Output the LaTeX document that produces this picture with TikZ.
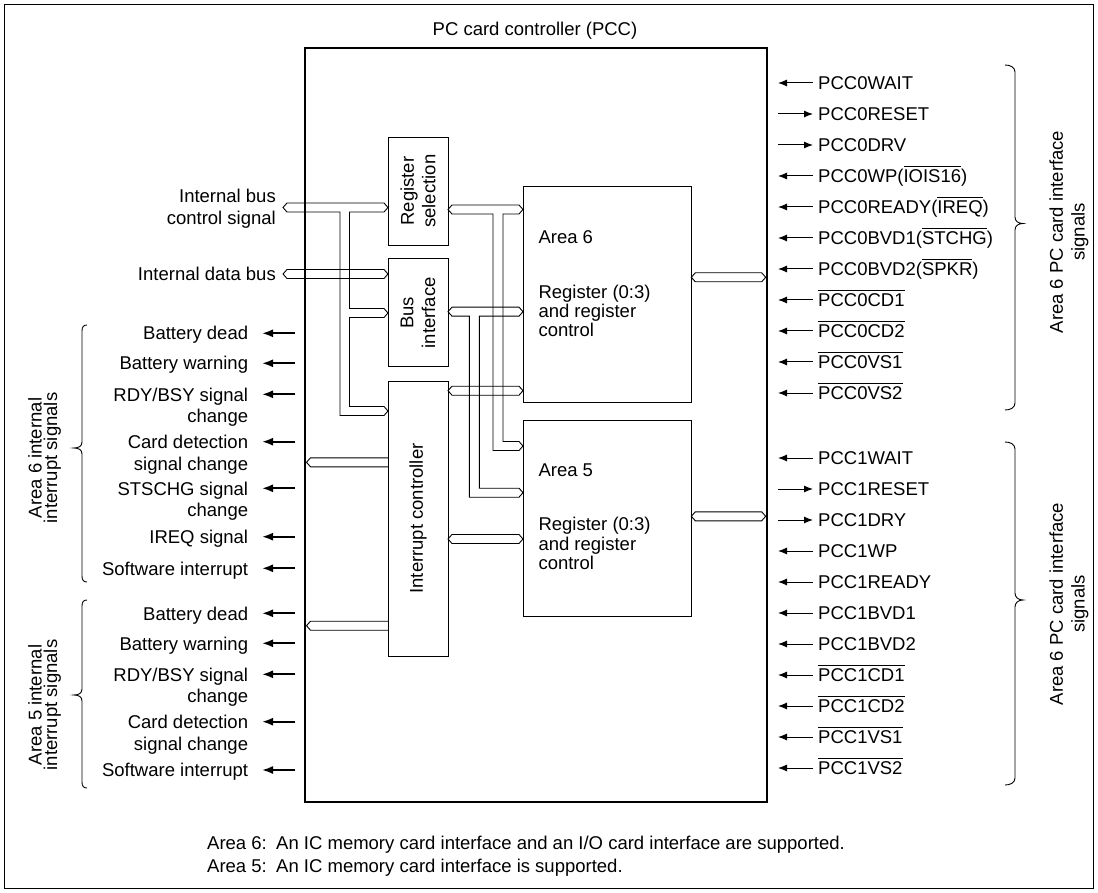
\documentclass[tikz,border=0pt]{standalone}
\usepackage{fontspec}
\setmainfont{Liberation Sans}
\usetikzlibrary{arrows.meta}
\newcommand{\ovl}[1]{\leavevmode\vbox{\hrule height 0.9pt\kern 2.4pt\hbox{#1}}}
\tikzset{
  blk/.style={draw, line width=1pt, inner sep=0pt},
  sigR/.style={anchor=base west, inner xsep=5pt, inner ysep=0pt},
  sigL/.style={anchor=base east, inner xsep=13.7pt, inner ysep=0pt},
  sarrow/.style={-{Latex[length=9pt,width=7pt]}, line width=1pt},
  larrow/.style={-{Latex[length=11pt,width=8pt]}, line width=1.8pt},
  bus/.style={line width=0.9pt, line join=miter},
  brace/.style={line width=0.9pt},
  rlab/.style={rotate=90, align=center, inner sep=0pt},
  note/.style={anchor=base west, inner sep=0pt},
}
\newcommand{\SigIn}[3]{\coordinate (#1c) at (778,#2); \node[sigR] (#1) at (813,#2+6.7) {#3}; \draw[sarrow] (#1c -| #1.west) -- (#1c);}
\newcommand{\SigOut}[3]{\coordinate (#1c) at (778,#2); \node[sigR] (#1) at (813,#2+6.7) {#3}; \draw[sarrow] (#1c) -- (#1c -| #1.west);}
\newcommand{\SigL}[3]{\coordinate (#1c) at (295,#2); \node[sigL] (#1) at (262,#2+6.7) {\begin{tabular}[t]{@{}r@{}}#3\end{tabular}}; \draw[larrow] (#1c) -- (#1c -| #1.east);}
\begin{document}
\begin{tikzpicture}[x=1pt,y=-1pt,font=\fontsize{18.5}{21.7}\selectfont]
\useasboundingbox (0,0) rectangle (1098,893);
\draw[line width=1pt] (4.5,4.5) rectangle (1093.5,888.5);

% title and main box
\node[anchor=base, inner sep=0pt] (title) at (535,35.7) {PC card controller (PCC)};
\node[draw, line width=2.6pt, minimum width=462pt, minimum height=754pt, inner sep=0pt] (pcc) at (536,425) {};

% inner blocks
\node[blk, minimum width=60pt, minimum height=107.7pt] (rs) at (418,191.2) {};
\node[rlab] at (rs.center) {Register\\selection};
\node[blk, minimum width=60pt, minimum height=107.7pt] (bi) at (418,312.8) {};
\node[rlab] at (bi.center) {Bus\\interface};
\node[blk, minimum width=60pt, minimum height=275pt] (ic) at (418,518.5) {};
\node[rlab] at (ic.center) {Interrupt controller};
\node[blk, minimum width=168pt, minimum height=215pt] (a6) at (607.3,294.5) {};
\node[blk, minimum width=168pt, minimum height=196.3pt] (a5) at (607.3,518.8) {};
\node[anchor=base west, inner sep=0pt] (a6t) at (538.3,243.4) {Area 6};
\node[anchor=base west, inner sep=0pt] (a6r) at (538.3,298.4) {\fontsize{18.5}{19.3}\selectfont\begin{tabular}[t]{@{}l@{}}Register (0:3)\\and register\\control\end{tabular}};
\node[anchor=base west, inner sep=0pt] (a5t) at (538.3,476.7) {Area 5};
\node[anchor=base west, inner sep=0pt] (a5r) at (538.3,530.7) {\fontsize{18.5}{19.3}\selectfont\begin{tabular}[t]{@{}l@{}}Register (0:3)\\and register\\control\end{tabular}};

% buses, left side
\node[anchor=base east, inner sep=0pt] (ibc) at (276,202.7) {\begin{tabular}[t]{@{}r@{}}Internal bus\\control signal\end{tabular}};
\node[anchor=base east, inner sep=0pt] (idb) at (276,280.7) {Internal data bus};
\draw[bus] (287,203) -- (384,203) -- (388,207.5) -- (384,212) -- (349.5,212)
  -- (349.5,308.5) -- (384,308.5) -- (388,313) -- (384,317.5) -- (349.5,317.5)
  -- (349.5,406.5) -- (384,406.5) -- (388,411) -- (384,415.5) -- (340,415.5)
  -- (340,212) -- (287,212) -- (283,207.5) -- cycle;
\draw[bus] (287,269.5) -- (384,269.5) -- (388,274) -- (384,278.5) -- (287,278.5) -- (283,274) -- cycle;

% buses, middle
\draw[bus] (448,209.5) -- (452,205) -- (519,205) -- (523,209.5) -- (519,214) -- (503,214)
  -- (503,441.5) -- (519,441.5) -- (523,446) -- (519,450.5) -- (493,450.5) -- (493,214) -- (452,214) -- cycle;
\draw[bus] (448,311.7) -- (452,307.2) -- (519,307.2) -- (523,311.7) -- (519,316.2) -- (479.3,316.2)
  -- (479.3,488.2) -- (519,488.2) -- (523,492.7) -- (519,497.2) -- (469.3,497.2) -- (469.3,316.2) -- (452,316.2) -- cycle;
\draw[bus] (448,390.7) -- (452,386.2) -- (519,386.2) -- (523,390.7) -- (519,395.2) -- (452,395.2) -- cycle;
\draw[bus] (448,539) -- (452,534.5) -- (519,534.5) -- (523,539) -- (519,543.5) -- (452,543.5) -- cycle;
\draw[bus] (388,457.8) -- (310.5,457.8) -- (306.5,462.3) -- (310.5,466.8) -- (388,466.8);
\draw[bus] (388,621.2) -- (310.5,621.2) -- (306.5,625.7) -- (310.5,630.2) -- (388,630.2);
\draw[bus] (691.3,277.3) -- (695.3,272.8) -- (761.7,272.8) -- (765.7,277.3) -- (761.7,281.8) -- (695.3,281.8) -- cycle;
\draw[bus] (691.3,516.3) -- (695.3,511.8) -- (761.7,511.8) -- (765.7,516.3) -- (761.7,520.8) -- (695.3,520.8) -- cycle;

% right signals
\SigIn{r1}{83}{PCC0WAIT}
\SigOut{r2}{114}{PCC0RESET}
\SigOut{r3}{145}{PCC0DRV}
\SigIn{r4}{176}{PCC0WP(\ovl{IOIS16})}
\SigIn{r5}{207}{PCC0READY(\ovl{IREQ})}
\SigIn{r6}{238}{PCC0BVD1(\ovl{STCHG})}
\SigIn{r7}{269}{PCC0BVD2(\ovl{SPKR})}
\SigIn{r8}{300}{\ovl{PCC0CD1}}
\SigIn{r9}{331}{\ovl{PCC0CD2}}
\SigIn{r10}{362}{\ovl{PCC0VS1}}
\SigIn{r11}{393}{\ovl{PCC0VS2}}
\SigIn{r12}{458}{PCC1WAIT}
\SigOut{r13}{489}{PCC1RESET}
\SigOut{r14}{520}{PCC1DRY}
\SigIn{r15}{551}{PCC1WP}
\SigIn{r16}{582}{PCC1READY}
\SigIn{r17}{613}{PCC1BVD1}
\SigIn{r18}{644}{PCC1BVD2}
\SigIn{r19}{675}{\ovl{PCC1CD1}}
\SigIn{r20}{706}{\ovl{PCC1CD2}}
\SigIn{r21}{737}{\ovl{PCC1VS1}}
\SigIn{r22}{768}{\ovl{PCC1VS2}}

% left signals
\SigL{l1}{333.3}{Battery dead}
\SigL{l2}{363.3}{Battery warning}
\SigL{l3}{394.3}{RDY/BSY signal\\change}
\SigL{l4}{441.7}{Card detection\\signal change}
\SigL{l5}{488.3}{STSCHG signal\\change}
\SigL{l6}{536.7}{IREQ signal}
\SigL{l7}{568.3}{Software interrupt}
\SigL{l8}{613.3}{Battery dead}
\SigL{l9}{643.3}{Battery warning}
\SigL{l10}{674.3}{RDY/BSY signal\\change}
\SigL{l11}{721.7}{Card detection\\signal change}
\SigL{l12}{770}{Software interrupt}

% braces
\draw[brace] (87,325) .. controls (83.5,325) and (82,327) .. (82,331) -- (82,442) .. controls (82,446) and (79,448) .. (74,448) .. controls (79,448) and (82,450) .. (82,454) -- (82,576) .. controls (82,580) and (83.5,582) .. (87,582);
\draw[brace] (87,600) .. controls (83.5,600) and (82,602) .. (82,606) -- (82,689) .. controls (82,693) and (79,695) .. (74,695) .. controls (79,695) and (82,697) .. (82,701) -- (82,782) .. controls (82,786) and (83.5,788) .. (87,788);
\draw[brace] (1005,65) .. controls (1010,65) and (1015,67) .. (1015,72) -- (1015,217) .. controls (1015,221) and (1018,223.5) .. (1023,223.5) .. controls (1018,223.5) and (1015,226) .. (1015,230) -- (1015,403) .. controls (1015,408) and (1010,410) .. (1005,410);
\draw[brace] (1005,442) .. controls (1010,442) and (1015,444) .. (1015,449) -- (1015,593) .. controls (1015,597) and (1018,600) .. (1023,600) .. controls (1018,600) and (1015,603) .. (1015,607) -- (1015,778) .. controls (1015,783) and (1010,785) .. (1005,785);

% group labels
\node[rlab, font=\fontsize{18.5}{15.3}\selectfont] (g6) at (44.6,458) {Area 6 internal\\interrupt signals};
\node[rlab, font=\fontsize{18.5}{15.3}\selectfont] (g5) at (44.6,705) {Area 5 internal\\interrupt signals};
\node[rlab] (p6) at (1069,232) {Area 6 PC card interface\\signals};
\node[rlab] (p5) at (1069,604) {Area 6 PC card interface\\signals};

% notes
\node[note] (n1a) at (207,849.7) {Area 6:};
\node[note] (n1b) at (276,849.7) {An IC memory card interface and an I/O card interface are supported.};
\node[note] (n2a) at (207,872.7) {Area 5:};
\node[note] (n2b) at (276,872.7) {An IC memory card interface is supported.};
\end{tikzpicture}
\end{document}
